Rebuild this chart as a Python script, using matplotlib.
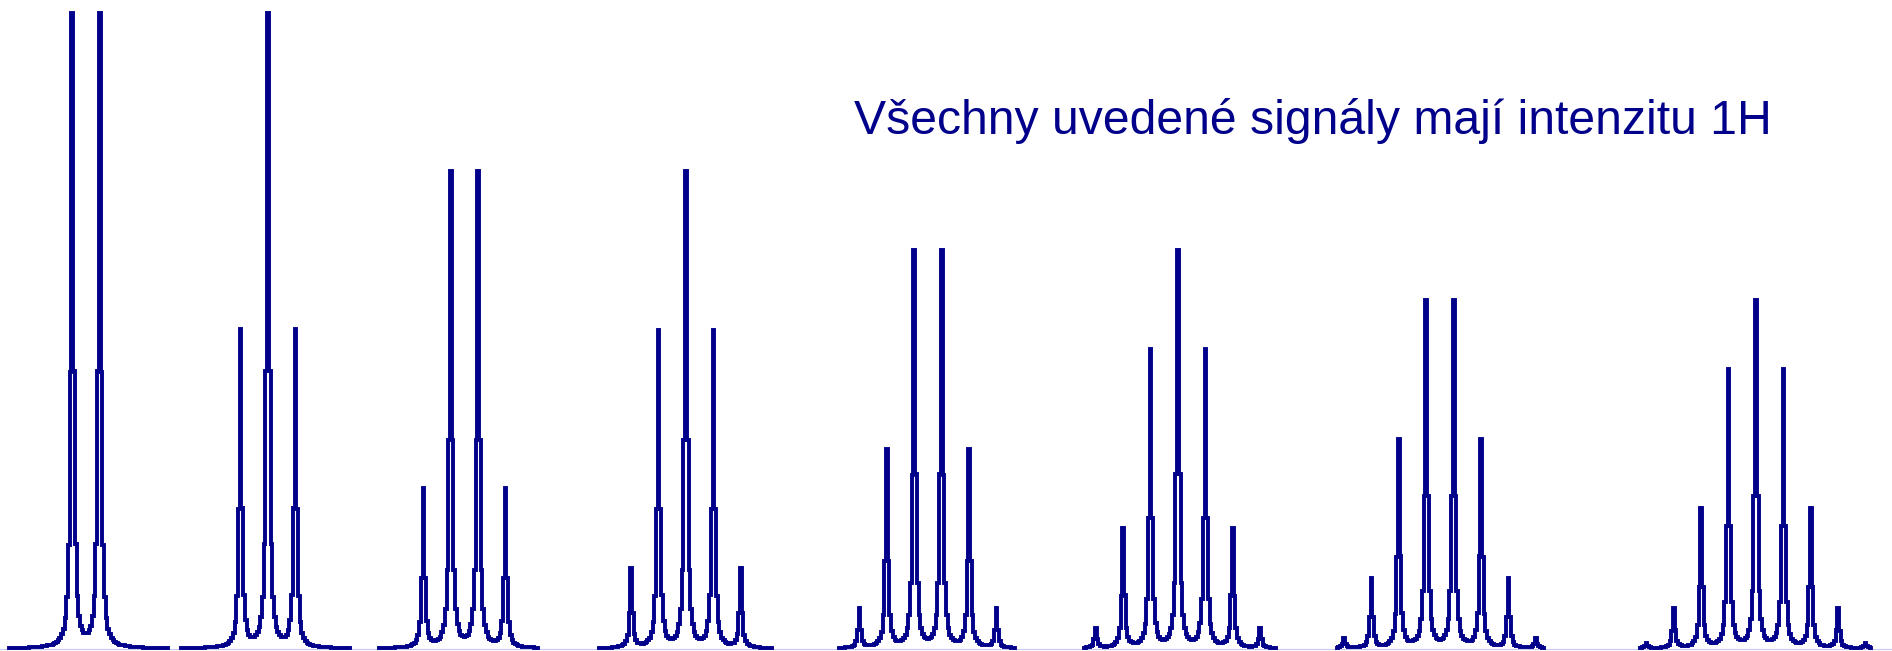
import numpy as np
import matplotlib
matplotlib.use("Agg")
import matplotlib.pyplot as plt

# relative line intensities of each multiplet (Pascal rows), d .. nonet
intensities = [
    [1, 1],
    [1, 2, 1],
    [1, 3, 3, 1],
    [1, 4, 6, 4, 1],
    [1, 5, 10, 10, 5, 1],
    [1, 6, 15, 20, 15, 6, 1],
    [1, 7, 21, 35, 35, 21, 7, 1],
    [1, 8, 28, 56, 70, 56, 28, 8, 1],
]
# multiplet centres and the span each trace is drawn over (Hz scale of the plot)
centers = [86, 268, 464.5, 686, 928, 1178, 1440, 1756]
starts = [10, 181, 380, 600, 839, 1084, 1338, 1641]
ends = [167, 350, 537, 770, 1015, 1274, 1543, 1870]
coupling = 27.4
half_width = 1.5
label = "Všechny uvedené signály mají intenzitu 1H"

color = "#00008b"

fig = plt.figure(figsize=(18.92, 6.51), dpi=100)
ax = fig.add_axes([0, 0, 1, 1])

dx = coupling / 16
for rel, c, x0, x1 in zip(intensities, centers, starts, ends):
    rel = np.array(rel, dtype=float)
    heights = rel / rel.sum()  # every signal integrates to 1H
    n = len(rel)
    lines = c + (np.arange(n) - (n - 1) / 2) * coupling
    k = np.arange(np.floor((x0 - c) / dx), np.ceil((x1 - c) / dx) + 1)
    x = c + k * dx
    y = np.zeros_like(x)
    for h, xl in zip(heights, lines):
        y += h / (1 + ((x - xl) / half_width) ** 2)
    ax.plot(x, y, color=color, lw=2.8, drawstyle="steps-mid", solid_joinstyle="miter")

ax.axhline(0, color="#c8c8ee", lw=0.8, zorder=0)

ax.text(854 / 1892, 516.5 / 651, label, color=color, fontsize=34.7,
        family=["Liberation Sans", "DejaVu Sans"], ha="left", va="baseline",
        transform=ax.transAxes)

scale = 634 / 0.5
ax.set_xlim(0, 1892)
ax.set_ylim(-2.5 / scale, 648.5 / scale)
ax.axis("off")

fig.savefig("out.png", dpi=100)
